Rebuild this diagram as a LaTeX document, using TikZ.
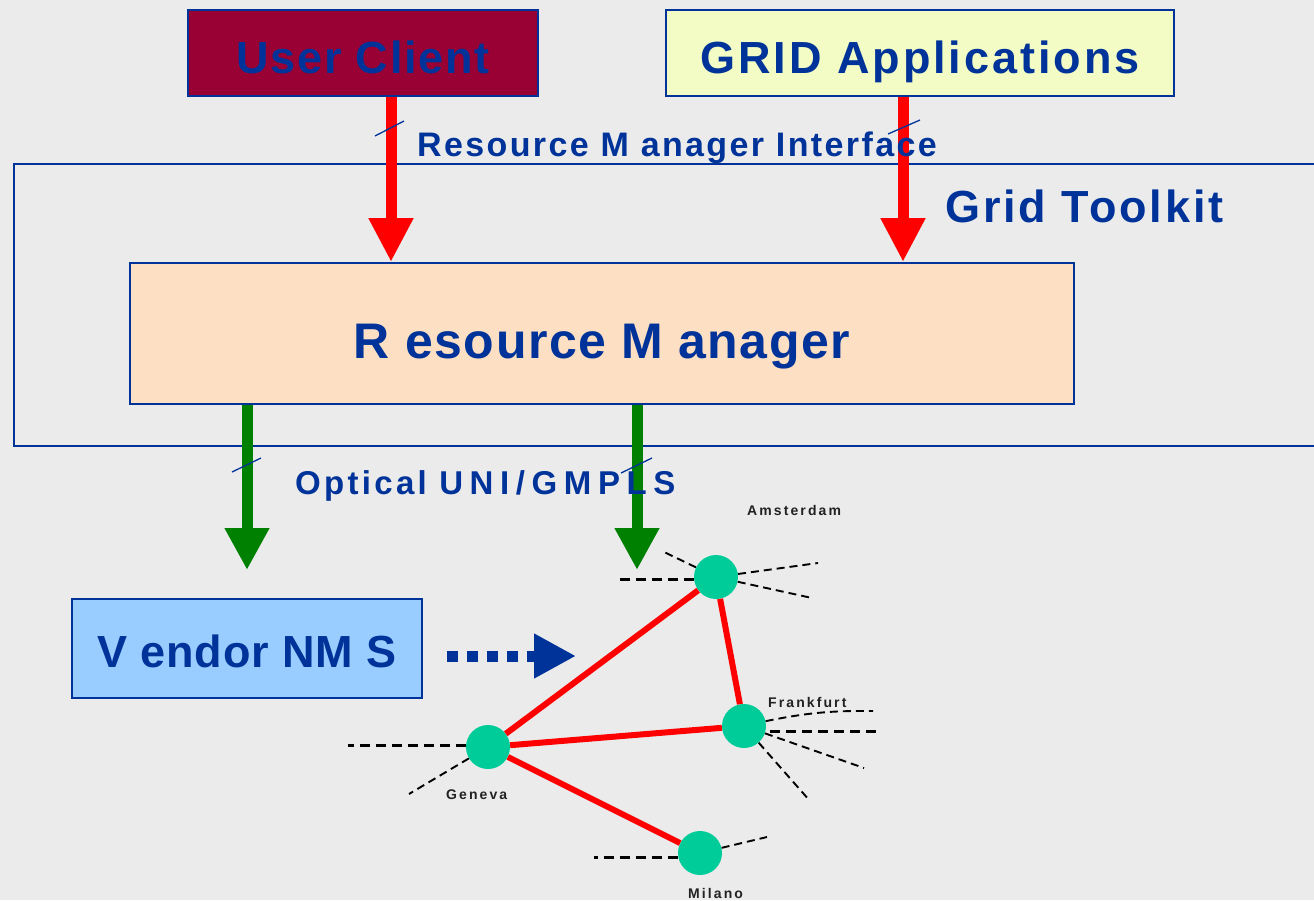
\documentclass[tikz,border=0pt]{standalone}
\usepackage{fontspec}
\setmainfont{Liberation Sans}
\usetikzlibrary{arrows.meta}
\definecolor{bgc}{HTML}{EBEBEB}
\definecolor{tblue}{HTML}{003399}
\definecolor{ucfill}{HTML}{990033}
\definecolor{gafill}{HTML}{F2FCC4}
\definecolor{rmfill}{HTML}{FDDFC3}
\definecolor{nmsfill}{HTML}{99CCFF}
\definecolor{netgreen}{HTML}{00CC99}
\definecolor{agreen}{HTML}{008000}
\definecolor{cityc}{HTML}{222222}
\newcommand{\myfs}[2]{\bfseries\fontsize{#1}{#1}\selectfont\addfontfeature{LetterSpace=#2}}
\begin{document}
\begin{tikzpicture}[x=1pt,y=-1pt,
  box/.style={draw=tblue, line width=2pt, inner sep=0pt, text=tblue, text depth=0pt},
  bluelbl/.style={text=tblue, inner sep=0pt, anchor=base west},
  citylbl/.style={text=cityc, inner sep=0pt, anchor=base west, font=\myfs{14}{15}},
  redarr/.style={draw=red, line width=11pt, -{Triangle[length=44pt,width=42pt]}},
  grnarr/.style={draw=agreen, line width=11pt, -{Triangle[length=42pt,width=42pt]}},
  dotarr/.style={draw=tblue, line width=11pt, dash pattern=on 11pt off 9pt, -{Triangle[length=42pt,width=42pt]}},
  slashmark/.style={draw=tblue, line width=1.3pt},
  link/.style={draw=red, line width=6pt},
  stubthick/.style={draw=black, line width=3pt, dash pattern=on 10pt off 6pt},
  stubthin/.style={draw=black, line width=1.9pt, dash pattern=on 8pt off 5pt},
  city/.style={circle, fill=netgreen, minimum size=44pt, inner sep=0pt}]
\useasboundingbox (0,0) rectangle (1314,900);
\fill[bgc] (0,0) rectangle (1314,900);

% Grid toolkit frame
\draw[tblue, line width=2pt] (1320,164) -- (14,164) -- (14,446) -- (1320,446);
\node[bluelbl, font=\myfs{45}{6.5}] (gtl) at (945,222) {Grid Toolkit};

% boxes
\node[box, fill=ucfill, minimum width=350pt, minimum height=86pt, text height=40pt, font=\myfs{45}{4}] (uc) at (363,53) {User Client};
\node[box, fill=gafill, minimum width=508pt, minimum height=86pt, text height=41pt, font=\myfs{45}{6.5}] (ga) at (920,53) {GRID Applications};
\node[box, fill=rmfill, minimum width=944pt, minimum height=141pt, text height=49pt, font=\myfs{50}{3}] (rm) at (602,333.5) {R esource M anager};
\node[box, fill=nmsfill, minimum width=350pt, minimum height=99pt, text height=37pt, font=\myfs{45}{2}] (nms) at (247,648.5) {V endor NM S};

% red arrows
\coordinate (xr1) at (391,0);
\coordinate (xr2) at (903,0);
\draw[redarr] (uc.south -| xr1) -- (rm.north -| xr1);
\draw[redarr] (ga.south -| xr2) -- (rm.north -| xr2);
\draw[slashmark] (375,136) -- (404,121);
\draw[slashmark] (888,134) -- (920,120);
\node[bluelbl, font=\myfs{34}{7}] (rmi) at (417,156) {Resource M anager Interface};

% green arrows
\coordinate (g1) at (247,570);
\coordinate (g2) at (637,570);
\draw[grnarr] (rm.south -| g1) -- (g1);
\draw[grnarr] (rm.south -| g2) -- (g2);
\draw[slashmark] (232,472) -- (261,458);
\draw[slashmark] (621,473) -- (652,458);
\node[bluelbl, font=\myfs{33}{10}] (opt) at (295,494) {Optical {\addfontfeature{LetterSpace=20}UNI/GMPLS}};

% dotted arrow
\coordinate (dotend) at (576,656);
\draw[dotarr, shorten <=24pt] (nms.east |- dotend) -- (dotend);

% network
\node[city] (ams) at (716,577) {};
\node[city] (fra) at (744,726) {};
\node[city] (gen) at (488,747) {};
\node[city] (mil) at (700,853) {};

\draw[link] (ams) -- (gen);
\draw[link] (ams) -- (fra);
\draw[link] (gen) -- (fra);
\draw[link] (gen) -- (mil);

\coordinate (a1) at (616,579);
\coordinate (a2) at (662,551);
\coordinate (a3) at (818,563);
\coordinate (a4) at (812,598);
\draw[stubthick] (ams.west |- a1) -- (a1);
\draw[stubthin] (ams) -- (a2);
\draw[stubthin] (ams) -- (a3);
\draw[stubthin] (ams) -- (a4);

\coordinate (f1) at (873,711);
\coordinate (f2) at (877,731);
\coordinate (f3) at (864,768);
\coordinate (f4) at (810,801);
\draw[stubthin] (fra) to[bend left=6] (f1);
\draw[stubthick, shorten <=4pt] (fra.east |- f2) -- (f2);
\draw[stubthin] (fra) -- (f3);
\draw[stubthin] (fra) -- (f4);

\coordinate (gg1) at (348,745);
\coordinate (gg2) at (409,794);
\draw[stubthick] (gen.west |- gg1) -- (gg1);
\draw[stubthin] (gen) -- (gg2);

\coordinate (m1) at (594,857);
\coordinate (m2) at (767,837);
\draw[stubthick] (mil.west |- m1) -- (m1);
\draw[stubthin] (mil) -- (m2);

\node[citylbl] (lams) at (747,515) {Amsterdam};
\node[citylbl] (lfra) at (768,707) {Frankfurt};
\node[citylbl] (lgen) at (446,799) {Geneva};
\node[citylbl] (lmil) at (688,898) {Milano};
\end{tikzpicture}
\end{document}
